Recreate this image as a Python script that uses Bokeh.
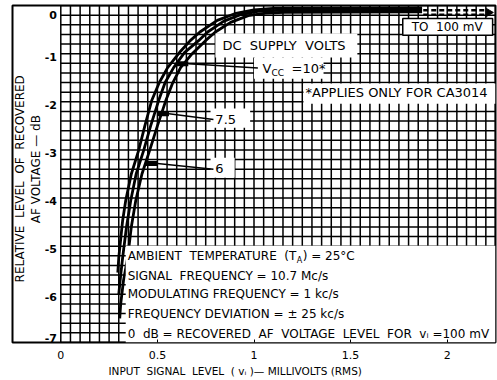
import numpy as np
from bokeh.plotting import figure
from bokeh.models import FixedTicker, ColumnDataSource, Title
from bokeh.core.properties import value
from bokeh.embed import file_html
from bokeh.resources import INLINE

# ---- data ----
vcc10_x = [0.295, 0.300, 0.320, 0.336, 0.365, 0.403, 0.435, 0.470, 0.510, 0.553, 0.620, 0.670, 0.720, 0.810, 0.900, 1.000, 1.100, 1.870]
vcc10_y = [-5.55, -5.24, -4.47, -4.05, -3.50, -3.01, -2.50, -1.98, -1.60, -1.29, -0.95, -0.73, -0.55, -0.31, -0.17, -0.09, -0.06, -0.05]

vcc75_x = [0.300, 0.310, 0.320, 0.340, 0.362, 0.390, 0.429, 0.465, 0.506, 0.540, 0.584, 0.640, 0.713, 0.760, 0.842, 0.930, 1.020, 1.120, 1.870]
vcc75_y = [-6.00, -5.60, -5.24, -4.60, -4.05, -3.50, -3.01, -2.50, -1.98, -1.60, -1.29, -0.98, -0.73, -0.55, -0.33, -0.19, -0.12, -0.10, -0.09]

vcc6_x = [0.305, 0.310, 0.325, 0.346, 0.365, 0.388, 0.420, 0.460, 0.500, 0.543, 0.580, 0.620, 0.680, 0.749, 0.800, 0.879, 0.970, 1.060, 1.160, 1.870]
vcc6_y = [-6.50, -6.20, -5.70, -5.24, -4.60, -4.05, -3.50, -3.01, -2.50, -1.98, -1.60, -1.29, -1.00, -0.73, -0.55, -0.35, -0.21, -0.16, -0.14, -0.13]

x_ticks = [0, 0.5, 1, 1.5, 2]
x_tick_labels = ["0", "0.5", "1", "1.5", "2"]
y_ticks = [0, -1, -2, -3, -4, -5, -6, -7]
y_tick_labels = ["0", "-1", "-2", "-3", "-4", "-5", "-6", "-7"]

X0, X1 = -0.25, 2.25
Y0, Y1 = -7.0, 0.0
FONT = value("DejaVu Sans")
S = "\u00a0"  # extra (non-collapsing) space for the wide lettering

p = figure(width=497, height=380, x_range=(X0, X1), y_range=(Y0, Y1),
           output_backend="svg", toolbar_location=None, y_axis_location=None,
           min_border_left=12, min_border_right=2, min_border_top=5, min_border_bottom=38)
p.background_fill_color = "white"
p.border_fill_color = "white"
p.outline_line_color = "black"
p.outline_line_width = 2
p.xgrid.visible = False
p.ygrid.visible = False

# x axis
ax = p.xaxis[0]
ax.ticker = FixedTicker(ticks=x_ticks)
ax.major_label_overrides = {t: l for t, l in zip(x_ticks, x_tick_labels)}
ax.axis_line_color = None
ax.major_tick_in = 3
ax.major_tick_out = 0
ax.major_tick_line_color = "black"
ax.minor_tick_line_color = None
ax.major_label_text_font = "DejaVu Sans"
ax.major_label_text_font_size = "11px"
ax.major_label_text_color = "black"
ax.major_label_standoff = 8

p.add_layout(Title(text="INPUT" + S + " SIGNAL" + S + " LEVEL" + S + "  ( v\u1d62 )\u2014 MILLIVOLTS (RMS)",
                   align="left", offset=96, text_font="DejaVu Sans", text_font_size="10.5px",
                   text_font_style="normal", text_color="black", standoff=2), "below")

# grid (paper chart): every 0.05 mV and 0.2 dB, starting at x = 0
gx = np.round(np.arange(0, X1 + 1e-9, 0.05), 3)
gy = np.round(np.arange(Y0, Y1 + 1e-9, 0.2), 3)
p.segment(x0=gx, y0=[Y0] * len(gx), x1=gx, y1=[Y1] * len(gx), line_color="black", line_width=1.5)
p.segment(x0=[0] * len(gy), y0=gy, x1=[X1] * len(gy), y1=gy, line_color="black", line_width=1.5)

# curves
for xs, ys in [(vcc10_x, vcc10_y), (vcc75_x, vcc75_y), (vcc6_x, vcc6_y)]:
    p.line(xs, ys, line_color="black", line_width=2.8, line_join="round")

# continuation arrow to 100 mV
p.segment(x0=[1.876, 1.876], y0=[-0.10, -0.19], x1=[2.20, 2.20], y1=[-0.10, -0.19],
          line_color="black", line_width=2.5, line_dash="5 3")
p.scatter([2.215], [-0.145], marker="triangle", angle=-np.pi / 2, size=8, color="black")

# white label boxes
boxes = [
    (0.336, X1, -4.99, Y0),        # conditions block
    (0.800, 1.535, -0.58, -1.08),  # DC SUPPLY VOLTS
    (1.000, 1.360, -1.08, -1.52),  # Vcc = 10*
    (1.256, X1, -1.62, -2.04),     # *APPLIES ...
    (0.775, 0.980, -2.14, -2.54),  # 7.5
    (0.775, 0.900, -3.16, -3.58),  # 6
]
p.quad(left=[b[0] for b in boxes], right=[b[1] for b in boxes],
       top=[b[2] for b in boxes], bottom=[b[3] for b in boxes],
       fill_color="white", line_color=None)
p.quad(left=[1.77], right=[2.235], top=[-0.27], bottom=[-0.62],
       fill_color="white", line_color="black", line_width=1.5)

# leaders
p.segment(x0=[0.60, 0.50, 0.44], y0=[-1.21, -2.25, -3.28], x1=[0.66, 0.56, 0.50], y1=[-1.21, -2.25, -3.28],
          line_color="black", line_width=5)
p.segment(x0=[0.66, 0.56, 0.50], y0=[-1.21, -2.25, -3.28], x1=[1.02, 0.79, 0.79], y1=[-1.30, -2.37, -3.40],
          line_color="black", line_width=1.5)

def txt(x, y, s, size="12px", align="left", angle=0.0, xo=0, yo=0, style="normal"):
    p.text(x=[x], y=[y], text=[s], text_font=FONT, text_font_size=size, text_color="black",
           text_align=align, text_baseline="middle", angle=angle, x_offset=xo, y_offset=yo,
           text_font_style=style)

# y tick labels (inside the outer frame)
for t, l in zip(y_ticks, y_tick_labels):
    src = ColumnDataSource(dict(x=[-0.02], y=[t], t=[l]))
    off = 9 if t == 0 else (-5 if t == -7 else 3)
    p.text(x="x", y="y", text="t", source=src, text_font=FONT, text_font_size="11px",
           text_font_style="bold", text_color="black", text_align="right",
           text_baseline="middle", y_offset=off)

# y axis title (two lines)
txt(-0.209, -3.60, "RELATIVE" + S + " LEVEL" + S + " OF" + S + " RECOVERED", angle=np.pi / 2, align="center")
txt(-0.126, -3.40, "AF VOLTAGE \u2014 dB", angle=np.pi / 2, align="center")

# annotations
txt(2.0, -0.44, "TO" + S + " 100 mV", align="center")
txt(0.837, -0.83, "DC" + S + " SUPPLY" + S + " VOLTS", size="13px")
txt(1.044, -1.31, "V", size="13px")
txt(1.044, -1.31, "CC", size="9px", xo=9, yo=4)
txt(1.044, -1.31, "=10*", size="13px", xo=29)
txt(1.266, -1.81, "*APPLIES ONLY FOR CA3014", size="13px")
txt(0.80, -2.36, "7.5", size="13px")
txt(0.80, -3.38, "6", size="13px")

txt(0.346, -5.21, "AMBIENT" + S + " TEMPERATURE" + S + " (T")
txt(0.346, -5.21, "A", size="8px", xo=169, yo=4)
txt(0.346, -5.21, ") = 25\u00b0C", xo=175)
txt(0.346, -5.61, "SIGNAL" + S + " FREQUENCY = 10.7 Mc/s")
txt(0.346, -6.00, "MODULATING FREQUENCY = 1 kc/s")
txt(0.346, -6.40, "FREQUENCY DEVIATION = \u00b1 25 kc/s")
txt(0.346, -6.83, "0" + S + " dB = RECOVERED" + S + " AF" + S + " VOLTAGE" + S + " LEVEL" + S
    + " FOR" + S + " v\u1d62 =100 mV")

open("out.html", "w").write(file_html(p, INLINE))
